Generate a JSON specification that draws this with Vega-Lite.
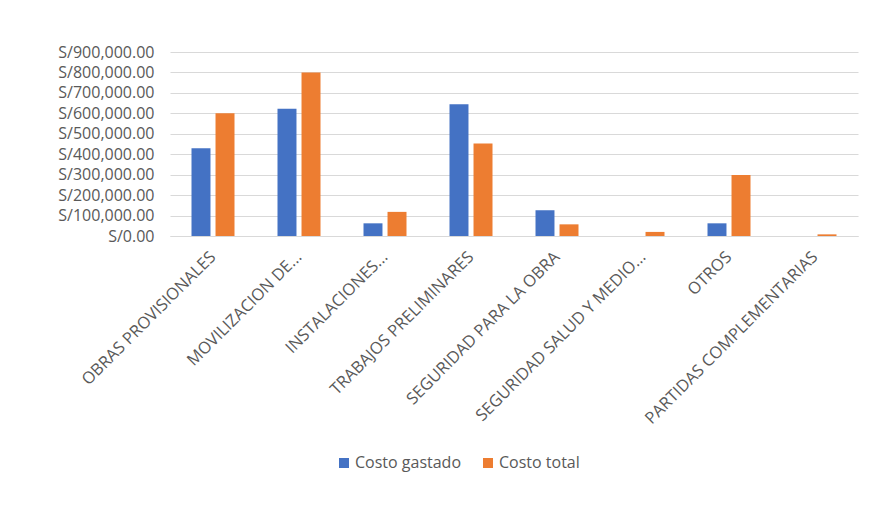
{
  "$schema": "https://vega.github.io/schema/vega-lite/v6.json",
  "autosize": {"type": "none"},
  "width": 688,
  "height": 184,
  "padding": {"left": 170, "top": 52, "right": 28, "bottom": 284},
  "background": "white",
  "data": {
    "values": [
      {"partida": "OBRAS PROVISIONALES", "serie": "Costo gastado", "costo": 429000},
      {"partida": "OBRAS PROVISIONALES", "serie": "Costo total", "costo": 600000},
      {"partida": "MOVILIZACION DE...", "serie": "Costo gastado", "costo": 622000},
      {"partida": "MOVILIZACION DE...", "serie": "Costo total", "costo": 800000},
      {"partida": "INSTALACIONES...", "serie": "Costo gastado", "costo": 62000},
      {"partida": "INSTALACIONES...", "serie": "Costo total", "costo": 118000},
      {"partida": "TRABAJOS PRELIMINARES", "serie": "Costo gastado", "costo": 645000},
      {"partida": "TRABAJOS PRELIMINARES", "serie": "Costo total", "costo": 452000},
      {"partida": "SEGURIDAD PARA LA OBRA", "serie": "Costo gastado", "costo": 126000},
      {"partida": "SEGURIDAD PARA LA OBRA", "serie": "Costo total", "costo": 57000},
      {"partida": "SEGURIDAD SALUD Y MEDIO...", "serie": "Costo gastado", "costo": 0},
      {"partida": "SEGURIDAD SALUD Y MEDIO...", "serie": "Costo total", "costo": 20000},
      {"partida": "OTROS", "serie": "Costo gastado", "costo": 62000},
      {"partida": "OTROS", "serie": "Costo total", "costo": 298000},
      {"partida": "PARTIDAS COMPLEMENTARIAS", "serie": "Costo gastado", "costo": 0},
      {"partida": "PARTIDAS COMPLEMENTARIAS", "serie": "Costo total", "costo": 8000}
    ]
  },
  "mark": {"type": "bar"},
  "encoding": {
    "x": {
      "field": "partida",
      "type": "nominal",
      "sort": null,
      "title": null,
      "scale": {"paddingInner": 0.5, "paddingOuter": 0.25},
      "axis": {
        "labelAngle": -45,
        "labelAlign": "right",
        "labelBaseline": "middle",
        "labelPadding": 18,
        "labelFont": "Open Sans",
        "labelFontSize": 16.5,
        "labelColor": "#595959",
        "labelLimit": 400,
        "ticks": false,
        "domain": true,
        "domainColor": "#D9D9D9",
        "domainWidth": 1,
        "grid": false
      }
    },
    "xOffset": {
      "field": "serie",
      "type": "nominal",
      "scale": {"paddingInner": 0.21, "paddingOuter": 0}
    },
    "y": {
      "field": "costo",
      "type": "quantitative",
      "title": null,
      "scale": {"domain": [0, 900000], "nice": false},
      "axis": {
        "values": [0, 100000, 200000, 300000, 400000, 500000, 600000, 700000, 800000, 900000],
        "labelExpr": "'S/' + format(datum.value, ',.2f')",
        "labelFont": "Open Sans",
        "labelFontSize": 16,
        "labelColor": "#595959",
        "labelPadding": 16,
        "ticks": false,
        "domain": false,
        "grid": true,
        "gridColor": "#D9D9D9",
        "gridWidth": 1
      }
    },
    "color": {
      "field": "serie",
      "type": "nominal",
      "title": null,
      "scale": {"domain": ["Costo gastado", "Costo total"], "range": ["#4472C4", "#ED7D31"]},
      "legend": {
        "orient": "none",
        "direction": "horizontal",
        "legendX": 166,
        "legendY": 403,
        "symbolType": "square",
        "symbolSize": 100,
        "symbolStrokeWidth": 0,
        "labelFont": "Open Sans",
        "labelFontSize": 16,
        "labelColor": "#595959",
        "columnPadding": 18,
        "labelOffset": 3
      }
    }
  },
  "config": {
    "view": {"stroke": null}
  }
}
